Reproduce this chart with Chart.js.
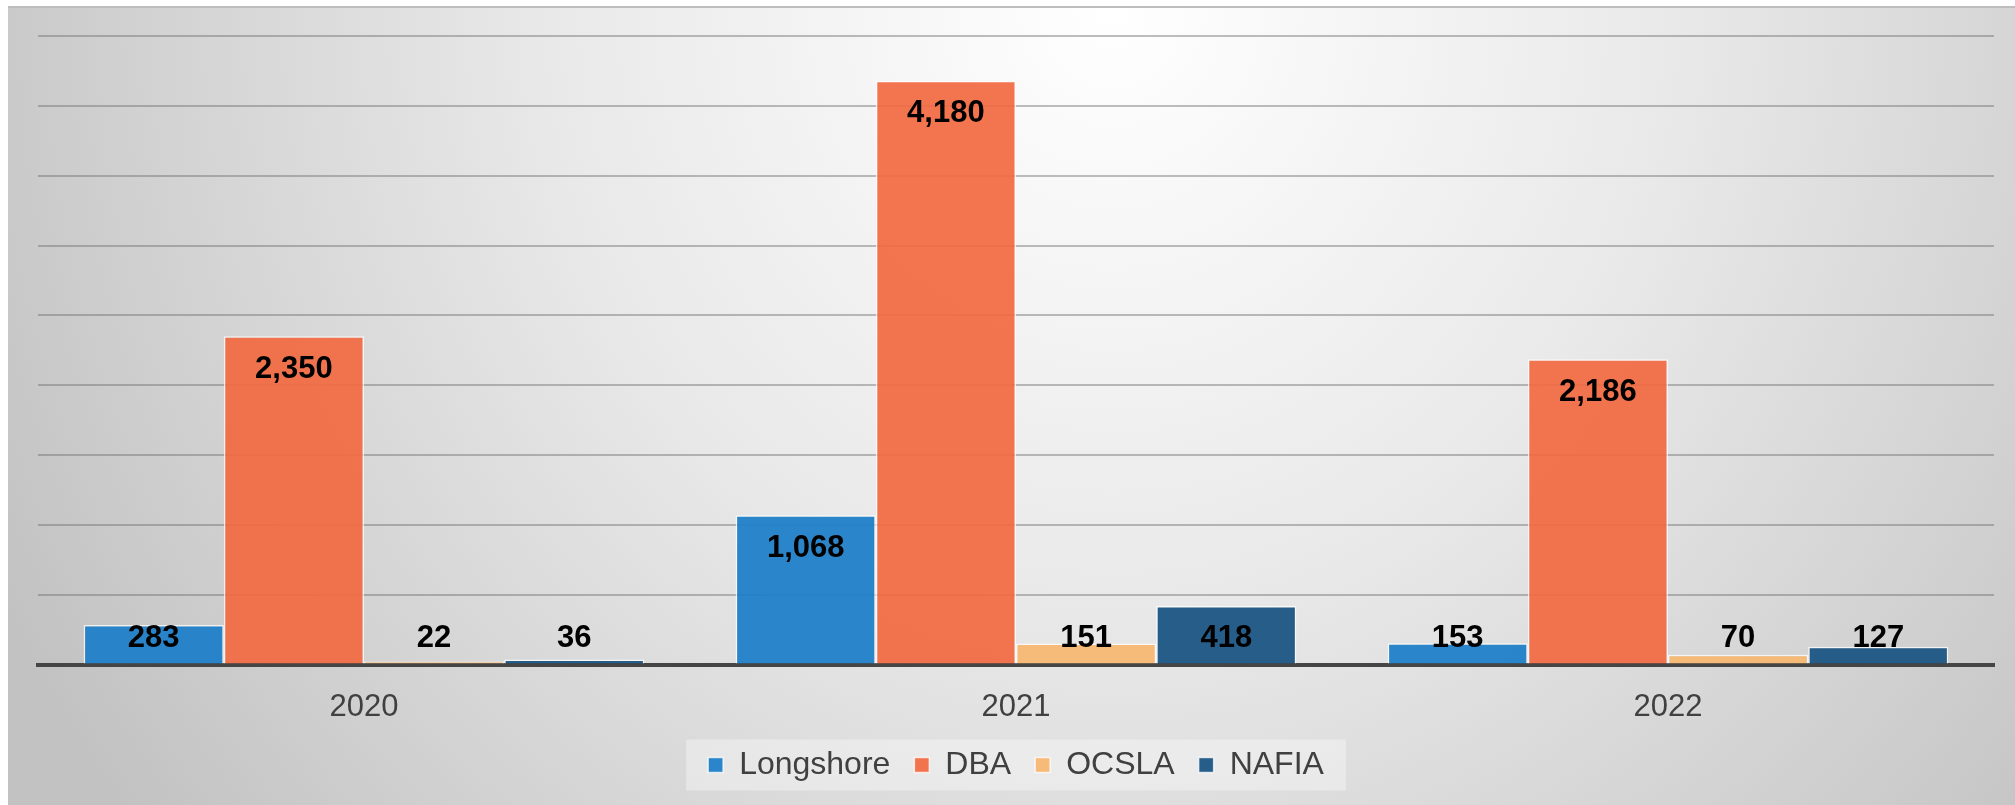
<!DOCTYPE html>
<html>
<head>
<meta charset="utf-8">
<script src="https://cdn.jsdelivr.net/npm/chart.js@4.4.0/dist/chart.umd.min.js"></script>
<style>
  html, body { margin: 0; padding: 0; background: #fff; }
  #panel {
    position: absolute; left: 8px; top: 6px; width: 2007px; height: 799px;
    border-top: 2px solid #bdbdbd;
    background: radial-gradient(ellipse 62% 165% at 55% 0%, #ffffff 0%, #e9e9e9 45%, #c2c2c2 100%);
  }
  #wrap { position: absolute; left: 0; top: 0; width: 2015px; height: 805px; }
</style>
</head>
<body>
<div id="panel"></div>
<div id="wrap"><canvas id="chart"></canvas></div>
<script>
// data
const years = ["2020", "2021", "2022"];
const longshore = [283, 1068, 153];
const dba = [2350, 4180, 2186];
const ocsla = [22, 151, 70];
const nafia = [36, 418, 127];

const font = '"Liberation Sans", Arial, sans-serif';

// value labels, at the top inside the bar but never below a floor line
const barLabels = {
    id: 'barLabels',
    afterDatasetsDraw(chart) {
        const ctx = chart.ctx;
        const floor = chart.scales.y.getPixelForValue(0) - 26;
        ctx.save();
        ctx.font = 'bold 31px ' + font;
        ctx.fillStyle = '#000';
        ctx.textAlign = 'center';
        ctx.textBaseline = 'middle';
        chart.data.datasets.forEach((ds, i) => {
            chart.getDatasetMeta(i).data.forEach((bar, j) => {
                let y = Math.min(bar.y + 33, floor);
                ctx.fillText(ds.data[j].toLocaleString('en-US'), bar.x, y);
            });
        });
        ctx.restore();
    }
};

// light box behind the legend
const legendBox = {
    id: 'legendBox',
    beforeDraw(chart) {
        const lg = chart.legend;
        if (!lg || !lg.legendHitBoxes) return;
        const pad = lg.options.labels.padding;
        let w = 0;
        lg.legendHitBoxes.forEach(h => w += h.width);
        w += pad * (lg.legendHitBoxes.length - 1);
        const cx = (lg.left + lg.right) / 2;
        const cy = lg.top + pad + 16;
        const ctx = chart.ctx;
        ctx.save();
        ctx.fillStyle = 'rgba(255,255,255,0.35)';
        ctx.fillRect(cx - w / 2 - 22, cy - 25.5, w + 44, 51);
        ctx.restore();
    }
};

new Chart(document.getElementById("chart"), {
    type: 'bar',
    data: {
        labels: years,
        datasets: [
            { label: 'Longshore', data: longshore, backgroundColor: 'rgba(30,126,200,0.94)' },
            { label: 'DBA', data: dba, backgroundColor: 'rgba(242,106,66,0.93)' },
            { label: 'OCSLA', data: ocsla, backgroundColor: 'rgba(247,183,114,0.94)' },
            { label: 'NAFIA', data: nafia, backgroundColor: 'rgba(28,86,132,0.95)' }
        ]
    },
    options: {
        responsive: true,
        maintainAspectRatio: false,
        animation: false,
        layout: { padding: { left: 38, right: 21, top: 36, bottom: 14 } },
        datasets: {
            bar: {
                categoryPercentage: 0.86,
                barPercentage: 1,
                borderColor: 'rgba(255,255,255,0.75)',
                borderWidth: 1.5
            }
        },
        scales: {
            x: {
                grid: { display: false, drawTicks: false },
                border: { display: true, color: '#454545', width: 4 },
                ticks: { color: '#404040', font: { family: font, size: 31 }, padding: 24 },
                afterFit(scale) { scale.height = 60.5; }
            },
            y: {
                min: 0,
                max: 4500,
                ticks: { display: false, stepSize: 500 },
                grid: { color: 'rgba(110,110,110,0.45)', lineWidth: 2, drawTicks: false },
                border: { display: false }
            }
        },
        plugins: {
            legend: {
                position: 'bottom',
                labels: {
                    color: '#404040',
                    font: { family: font, size: 32 },
                    boxWidth: 15,
                    boxHeight: 15,
                    padding: 24
                }
            },
            tooltip: { enabled: false }
        }
    },
    plugins: [legendBox, barLabels]
});
</script>
</body>
</html>
